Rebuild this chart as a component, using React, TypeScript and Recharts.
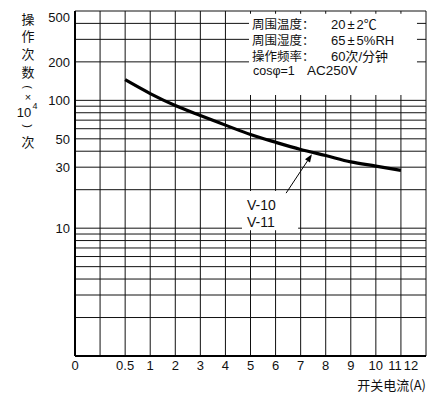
import React from 'react';
import { LineChart, Line, XAxis, YAxis, CartesianGrid, ReferenceArea, ReferenceLine } from 'recharts';

// Switching current (A) and operation counts (×10^4)
const currents = [0.5, 1, 2, 3, 4, 5, 6, 7, 8, 9, 10, 11];
const operations = [145, 113, 91, 76, 64, 54, 47, 41.3, 37, 33, 30.6, 28.3];

// X grid / tick values (current, A) and their labels
const xTickCurrents = [0, 0.25, 0.5, 1, 2, 3, 4, 5, 6, 7, 8, 9, 10, 11, 12];
const xTickLabels = ['0', '', '0.5', '1', '2', '3', '4', '5', '6', '7', '8', '9', '10', '11', '12'];

// Y grid values (log) and labelled ones
const yGridValues = [1, 2, 3, 4, 5, 6, 7, 8, 9, 10, 20, 30, 40, 50, 60, 70, 80, 90, 100, 200, 300, 400, 500];
const yLabelled = [10, 30, 50, 100, 200, 500];

const legendLabels = ['周围温度：', '周围湿度：', '操作频率：'];
const legendValues = [['20', '±', '2℃'], ['65', '±', '5%RH'], ['60次/分钟', '', '']];
const legendFoot = ['cosφ=1', 'AC250V'];
const seriesNames = ['V-10', 'V-11'];

const yTitleChars = ['操', '作', '次', '数', '(', '×', '10', ')', '次'];
const xTitle = '开关电流(A)';

// the axis is drawn non-uniformly: 0..0.5 spans two units, 0.5..1 one unit
const toPos = (c: number) => (c >= 1 ? c : c >= 0.5 ? 2 * c - 1 : 4 * c - 2);

const data = currents.map((c, i) => ({ pos: toPos(c), ops: operations[i] }));
const xTicks = xTickCurrents.map(toPos);

const SANS = '"Liberation Sans", Arial, Helvetica, sans-serif';
const CJK = '"Noto Sans CJK SC", "Liberation Sans", sans-serif';

const XTick = (props: any) => {
  const { x, y, payload } = props;
  const idx = xTicks.indexOf(payload.value);
  const label = idx >= 0 ? xTickLabels[idx] : '';
  let dx = 0;
  if (label === '11') dx = -6;
  if (label === '12') dx = -15;
  return (
    <text x={x + dx} y={y} dy={6} textAnchor="middle" fontFamily={SANS} fontSize={13} fill="#111">
      {label}
    </text>
  );
};

const YTick = (props: any) => {
  const { y, payload } = props;
  const v = payload.value;
  if (!yLabelled.includes(v)) return <g />;
  const dy = v === 500 ? 6 : 0;
  return (
    <text x={70} y={y + dy} dy="0.36em" textAnchor="end" fontFamily={SANS} fontSize={13} fill="#111">
      {v}
    </text>
  );
};

const arrowShape = (p: any) => {
  const { x1, y1, x2, y2 } = p;
  const ang = Math.atan2(y2 - y1, x2 - x1);
  const L = 8, W = 3;
  const bx = x2 - L * Math.cos(ang), by = y2 - L * Math.sin(ang);
  const px = -Math.sin(ang) * W, py = Math.cos(ang) * W;
  return (
    <g>
      <line x1={x1} y1={y1} x2={bx} y2={by} stroke="#000" strokeWidth={1} />
      <polygon points={`${x2},${y2} ${bx + px},${by + py} ${bx - px},${by - py}`} fill="#000" />
    </g>
  );
};

const legendContent = (p: any) => {
  const vb = p.viewBox || {};
  const x = vb.x ?? 0, y = vb.y ?? 0;
  return (
    <g>
      {legendLabels.map((t, i) => (
        <text key={'l' + i} x={x + 3} y={y + 11 + i * 16} dy="0.36em" fontFamily={CJK} fontSize={12.5} fill="#111">{t}</text>
      ))}
      {legendValues.map((parts, i) => (
        <text key={'v' + i} x={x + 82} y={y + 11 + i * 16} dy="0.36em" fontFamily={SANS + ', "Noto Sans CJK SC"'} fontSize={13} fill="#111">
          {parts[0]}
          {parts[1] ? <tspan dx={2}>{parts[1]}</tspan> : null}
          {parts[2] ? <tspan dx={2}>{parts[2]}</tspan> : null}
        </text>
      ))}
      <text x={x + 4} y={y + 56.5} dy="0.36em" fontFamily={SANS} fontSize={12.5} fill="#111">{legendFoot[0]}</text>
      <text x={x + 58} y={y + 56.5} dy="0.36em" fontFamily={SANS} fontSize={13.5} fill="#111">{legendFoot[1]}</text>
    </g>
  );
};

const seriesContent = (p: any) => {
  const vb = p.viewBox || {};
  const x = vb.x ?? 0, y = vb.y ?? 0;
  return (
    <g>
      {seriesNames.map((t, i) => (
        <text key={i} x={x + 5} y={y + 14 + i * 17} dy="0.36em" fontFamily={SANS} fontSize={14} fill="#111">{t}</text>
      ))}
    </g>
  );
};

const yTitleY = [19, 36, 54, 72, 87, 97, 112, 126, 142];

export default function App() {
  return (
    <div style={{ position: 'absolute', left: 0, top: 0, width: 438, height: 394, background: '#fff' }}>
      <LineChart width={438} height={394} data={data} margin={{ top: 11, right: 12, left: 0, bottom: 0 }}>
        <CartesianGrid stroke="#111" strokeWidth={1} />
        <XAxis
          dataKey="pos"
          type="number"
          domain={[-2, 12]}
          ticks={xTicks}
          interval={0}
          tick={<XTick />}
          tickLine={false}
          axisLine={{ stroke: '#000', strokeWidth: 2 }}
          height={38}
          allowDataOverflow
        />
        <YAxis
          type="number"
          scale="log"
          domain={[1, 500]}
          ticks={yGridValues}
          interval={0}
          tick={<YTick />}
          tickLine={false}
          axisLine={{ stroke: '#000', strokeWidth: 2 }}
          width={75}
          allowDataOverflow
        />
        <ReferenceArea x1={4.94} x2={11.64} y1={110} y2={476} fill="#fff" fillOpacity={1} stroke="none" label={legendContent} />
        <ReferenceArea x1={4.66} x2={6.9} y1={9.65} y2={19.5} fill="#fff" fillOpacity={1} stroke="none" label={seriesContent} />
        <ReferenceLine segment={[{ x: 6.42, y: 18.8 }, { x: 7.45, y: 37.9 }]} shape={arrowShape} />
        <Line type="monotone" dataKey="ops" stroke="#000" strokeWidth={3.2} dot={false} isAnimationActive={false} />
      </LineChart>
      <svg width={438} height={394} style={{ position: 'absolute', left: 0, top: 0, pointerEvents: 'none' }}>
        {yTitleChars.map((c, i) => {
          const cy = yTitleY[i];
          if (c === '10') {
            return (
              <g key={i}>
                <text x={24} y={cy} dy="0.36em" textAnchor="middle" fontFamily={SANS} fontSize={13} fill="#111">10</text>
                <text x={35} y={cy - 6} dy="0.36em" textAnchor="middle" fontFamily={SANS} fontSize={9} fill="#111">4</text>
              </g>
            );
          }
          if (c === '(' || c === ')') {
            return (
              <text key={i} x={28} y={cy} dy="0.36em" textAnchor="middle" fontFamily={SANS} fontSize={11}
                fill="#111" transform={`rotate(90 28 ${cy})`}>{c}</text>
            );
          }
          if (c === '×') {
            return (
              <text key={i} x={28} y={cy} dy="0.36em" textAnchor="middle" fontFamily={SANS} fontSize={11} fill="#111">{c}</text>
            );
          }
          return (
            <text key={i} x={28} y={cy} dy="0.36em" textAnchor="middle" fontFamily={CJK} fontSize={13} fill="#111">{c}</text>
          );
        })}
        <text x={426} y={385} dy="0.36em" textAnchor="end" fontFamily={CJK} fontSize={13} fill="#111">{xTitle}</text>
      </svg>
    </div>
  );
}
